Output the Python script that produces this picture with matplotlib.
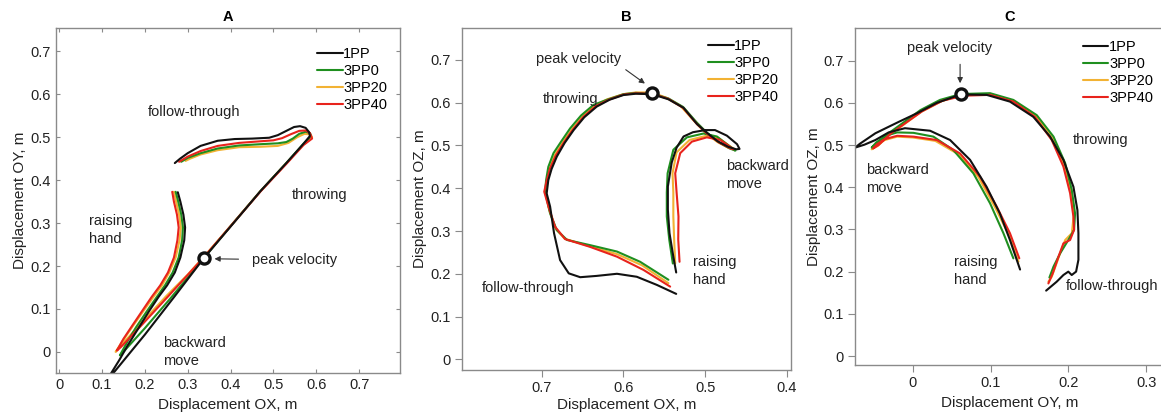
import numpy as np
import matplotlib
matplotlib.use("Agg")
import matplotlib.pyplot as plt

plt.rcParams['font.family'] = ['Liberation Sans', 'DejaVu Sans']

series_names = ["1PP", "3PP0", "3PP20", "3PP40"]
series_colors = {"1PP": "#111111", "3PP0": "#1f8f1f", "3PP20": "#f2b233", "3PP40": "#e8231c"}

# ---------------- Panel A: OX vs OY ----------------
A_1PP = [(0.277, 0.372), (0.283, 0.35), (0.29, 0.32), (0.294, 0.29), (0.292, 0.26), (0.283, 0.22),
         (0.27, 0.185), (0.252, 0.155), (0.232, 0.128), (0.21, 0.095), (0.185, 0.055), (0.16, 0.015),
         (0.14, -0.02), (0.112, -0.065), (0.118, -0.06), (0.2, 0.04), (0.27, 0.13), (0.338, 0.219),
         (0.4, 0.292), (0.47, 0.375), (0.53, 0.44), (0.57, 0.485), (0.585, 0.503), (0.583, 0.512),
         (0.575, 0.522), (0.562, 0.526), (0.548, 0.524), (0.53, 0.515), (0.51, 0.505), (0.49, 0.499),
         (0.45, 0.497), (0.41, 0.496), (0.37, 0.492), (0.33, 0.48), (0.3, 0.463), (0.282, 0.45), (0.27, 0.44)]
A_3PP0 = [(0.272, 0.373), (0.278, 0.35), (0.285, 0.32), (0.289, 0.29), (0.287, 0.26), (0.279, 0.22),
          (0.265, 0.185), (0.247, 0.155), (0.228, 0.128), (0.205, 0.095), (0.18, 0.058), (0.16, 0.025),
          (0.142, -0.008), (0.15, 0.0), (0.2, 0.055), (0.26, 0.125), (0.338, 0.219), (0.4, 0.293),
          (0.47, 0.375), (0.53, 0.44), (0.57, 0.485), (0.588, 0.503), (0.585, 0.51), (0.575, 0.513),
          (0.56, 0.508), (0.545, 0.497), (0.53, 0.489), (0.51, 0.486), (0.47, 0.484), (0.42, 0.481),
          (0.37, 0.474), (0.33, 0.463), (0.3, 0.452), (0.285, 0.443)]
A_3PP20 = [(0.268, 0.373), (0.273, 0.35), (0.28, 0.32), (0.284, 0.29), (0.281, 0.26), (0.272, 0.22),
           (0.257, 0.185), (0.24, 0.155), (0.22, 0.128), (0.198, 0.097), (0.172, 0.06), (0.15, 0.028),
           (0.132, 0.0), (0.14, 0.01), (0.19, 0.065), (0.25, 0.13), (0.3, 0.18), (0.338, 0.222),
           (0.4, 0.293), (0.47, 0.375), (0.53, 0.44), (0.57, 0.483), (0.59, 0.5), (0.585, 0.507),
           (0.572, 0.508), (0.555, 0.5), (0.535, 0.487), (0.51, 0.48), (0.47, 0.478), (0.42, 0.477),
           (0.37, 0.47), (0.33, 0.46), (0.305, 0.45), (0.295, 0.445)]
A_3PP40 = [(0.264, 0.373), (0.268, 0.35), (0.275, 0.32), (0.279, 0.29), (0.276, 0.26), (0.268, 0.22),
           (0.254, 0.185), (0.236, 0.155), (0.216, 0.128), (0.195, 0.097), (0.17, 0.06), (0.15, 0.03),
           (0.135, 0.003), (0.145, 0.012), (0.195, 0.065), (0.255, 0.13), (0.338, 0.221), (0.4, 0.293),
           (0.47, 0.374), (0.53, 0.438), (0.57, 0.482), (0.59, 0.497), (0.585, 0.51), (0.575, 0.516),
           (0.56, 0.515), (0.54, 0.507), (0.52, 0.498), (0.5, 0.493), (0.46, 0.49), (0.42, 0.487),
           (0.37, 0.48), (0.33, 0.468), (0.3, 0.455), (0.28, 0.443)]
A_peak = (0.338, 0.219)

# ---------------- Panel B: OX vs OZ ----------------
B_1PP = [(0.5355, 0.203), (0.539, 0.24), (0.5437, 0.295), (0.5457, 0.35), (0.5457, 0.404), (0.541, 0.46),
         (0.535, 0.495), (0.5265, 0.521), (0.515, 0.531), (0.5, 0.536), (0.488, 0.536), (0.4735, 0.523),
         (0.461, 0.503), (0.458, 0.492), (0.462, 0.491), (0.472, 0.497), (0.485, 0.51), (0.498, 0.53),
         (0.51, 0.55), (0.5265, 0.588), (0.545, 0.608), (0.565, 0.62), (0.585, 0.621), (0.6, 0.618),
         (0.617, 0.607), (0.6327, 0.591), (0.648, 0.566), (0.661, 0.536), (0.672, 0.506), (0.6816, 0.474),
         (0.688, 0.445), (0.692, 0.419), (0.694, 0.388), (0.6898, 0.357), (0.685, 0.295), (0.6776, 0.232),
         (0.667, 0.201), (0.653, 0.192), (0.633, 0.195), (0.608, 0.2), (0.5837, 0.193), (0.5592, 0.174),
         (0.5355, 0.153)]
B_3PP0 = [(0.5396, 0.224), (0.544, 0.28), (0.547, 0.334), (0.547, 0.39), (0.546, 0.435), (0.539, 0.49),
          (0.5224, 0.519), (0.502, 0.528), (0.4857, 0.521), (0.4694, 0.497), (0.463, 0.488), (0.47, 0.493),
          (0.482, 0.506), (0.498, 0.53), (0.51, 0.553), (0.527, 0.59), (0.545, 0.61), (0.565, 0.621),
          (0.585, 0.623), (0.6, 0.62), (0.62, 0.607), (0.6367, 0.595), (0.652, 0.57), (0.6653, 0.54),
          (0.676, 0.51), (0.6857, 0.482), (0.692, 0.45), (0.6947, 0.419), (0.696, 0.392), (0.6898, 0.341),
          (0.6816, 0.302), (0.669, 0.279), (0.641, 0.267), (0.608, 0.252), (0.5796, 0.228), (0.545, 0.186)]
B_3PP20 = [(0.5367, 0.224), (0.538, 0.28), (0.539, 0.334), (0.539, 0.39), (0.54, 0.435), (0.535, 0.484),
           (0.519, 0.513), (0.5, 0.522), (0.484, 0.518), (0.468, 0.496), (0.463, 0.49), (0.472, 0.495),
           (0.485, 0.508), (0.5, 0.53), (0.513, 0.556), (0.53, 0.592), (0.548, 0.612), (0.565, 0.624),
           (0.585, 0.624), (0.6, 0.62), (0.62, 0.608), (0.636, 0.593), (0.65, 0.568), (0.663, 0.538),
           (0.674, 0.508), (0.684, 0.478), (0.69, 0.448), (0.693, 0.418), (0.695, 0.392), (0.691, 0.35),
           (0.683, 0.305), (0.672, 0.282), (0.641, 0.264), (0.608, 0.246), (0.5775, 0.22), (0.545, 0.178)]
B_3PP40 = [(0.5314, 0.228), (0.533, 0.28), (0.5327, 0.334), (0.535, 0.39), (0.5367, 0.435), (0.5306, 0.482),
           (0.5163, 0.509), (0.498, 0.519), (0.4816, 0.513), (0.4653, 0.491), (0.47, 0.494), (0.483, 0.507),
           (0.498, 0.528), (0.51, 0.55), (0.527, 0.588), (0.545, 0.609), (0.565, 0.621), (0.585, 0.622),
           (0.6, 0.619), (0.618, 0.607), (0.634, 0.592), (0.649, 0.567), (0.662, 0.537), (0.673, 0.507),
           (0.683, 0.476), (0.69, 0.446), (0.694, 0.418), (0.697, 0.392), (0.6918, 0.357), (0.6837, 0.31),
           (0.6714, 0.281), (0.641, 0.263), (0.608, 0.24), (0.5755, 0.209), (0.5429, 0.17)]
B_peak = (0.565, 0.622)

# ---------------- Panel C: OY vs OZ ----------------
C_1PP = [(0.138, 0.205), (0.125, 0.275), (0.112, 0.338), (0.095, 0.401), (0.0737, 0.465), (0.048, 0.512),
         (0.0223, 0.534), (-0.01, 0.54), (-0.031, 0.53), (-0.048, 0.512), (-0.062, 0.501), (-0.074, 0.494),
         (-0.068, 0.503), (-0.048, 0.528), (-0.018, 0.555), (0.005, 0.575), (0.0309, 0.6), (0.0617, 0.62),
         (0.095, 0.619), (0.125, 0.603), (0.155, 0.567), (0.1766, 0.52), (0.1937, 0.465), (0.2066, 0.401),
         (0.2117, 0.346), (0.213, 0.291), (0.213, 0.228), (0.21, 0.2), (0.2044, 0.192), (0.2, 0.2),
         (0.1937, 0.192), (0.185, 0.176), (0.1715, 0.155)]
C_3PP0 = [(0.1294, 0.2315), (0.1166, 0.291), (0.0994, 0.362), (0.078, 0.433), (0.0523, 0.488), (0.0266, 0.52),
          (0.0009, 0.529), (-0.02, 0.53), (-0.035, 0.522), (-0.047, 0.506), (-0.0527, 0.494), (-0.046, 0.503),
          (-0.031, 0.528), (-0.01, 0.556), (0.01, 0.583), (0.035, 0.607), (0.0617, 0.621), (0.0994, 0.623),
          (0.1294, 0.607), (0.1594, 0.571), (0.181, 0.52), (0.196, 0.457), (0.2045, 0.393), (0.2087, 0.338),
          (0.2074, 0.299), (0.2, 0.275), (0.1894, 0.243), (0.181, 0.212), (0.1757, 0.186)]
C_3PP20 = [(0.136, 0.2236), (0.1235, 0.287), (0.106, 0.352), (0.0845, 0.424), (0.059, 0.478), (0.029, 0.51),
           (0.0, 0.518), (-0.02, 0.52), (-0.036, 0.512), (-0.047, 0.499), (-0.0527, 0.49), (-0.045, 0.498),
           (-0.03, 0.524), (-0.009, 0.552), (0.011, 0.579), (0.037, 0.604), (0.063, 0.619), (0.0994, 0.621),
           (0.1294, 0.605), (0.158, 0.569), (0.18, 0.515), (0.195, 0.452), (0.2035, 0.39), (0.207, 0.334),
           (0.2045, 0.291), (0.196, 0.275), (0.1894, 0.243), (0.1787, 0.188), (0.1744, 0.176)]
C_3PP40 = [(0.137, 0.2315), (0.125, 0.291), (0.108, 0.354), (0.0866, 0.425), (0.0609, 0.48), (0.0309, 0.512),
           (0.0009, 0.52), (-0.02, 0.522), (-0.036, 0.514), (-0.046, 0.502), (-0.051, 0.492), (-0.044, 0.5),
           (-0.029, 0.526), (-0.008, 0.554), (0.012, 0.58), (0.038, 0.605), (0.065, 0.617), (0.0994, 0.619),
           (0.1294, 0.603), (0.157, 0.567), (0.1787, 0.512), (0.1937, 0.449), (0.2023, 0.386), (0.2066, 0.33),
           (0.2074, 0.299), (0.2023, 0.275), (0.1937, 0.267), (0.1873, 0.235), (0.18, 0.196), (0.1744, 0.172)]
C_peak = (0.062, 0.62)

x_ticks_A = [0, 0.1, 0.2, 0.3, 0.4, 0.5, 0.6, 0.7]
x_ticks_B = [0.7, 0.6, 0.5, 0.4]
x_ticks_C = [0, 0.1, 0.2, 0.3]
y_ticks = [0, 0.1, 0.2, 0.3, 0.4, 0.5, 0.6, 0.7]


def fmt(v):
    return "0" if v == 0 else f"{v:g}"


W, H = 1161, 420
fig = plt.figure(figsize=(W / 100, H / 100), dpi=100)


def px_axes(l, r, t, b):
    return fig.add_axes([l / W, (H - b) / H, (r - l) / W, (b - t) / H])


axA = px_axes(56, 400, 28.3, 372.5)
axB = px_axes(461.7, 791, 28.3, 370)
axC = px_axes(855, 1165, 28.3, 365)

spine_col = "#8a8a8a"
draw_order = ["3PP20", "3PP0", "3PP40", "1PP"]

panels = [
    (axA, {"1PP": A_1PP, "3PP0": A_3PP0, "3PP20": A_3PP20, "3PP40": A_3PP40}, A_peak, "A",
     "Displacement OX, m", "Displacement OY, m", (-0.007, 0.795), (-0.048, 0.754), x_ticks_A, 'in'),
    (axB, {"1PP": B_1PP, "3PP0": B_3PP0, "3PP20": B_3PP20, "3PP40": B_3PP40}, B_peak, "B",
     "Displacement OX, m", "Displacement OZ, m", (0.798, 0.395), (-0.025, 0.774), x_ticks_B, 'out'),
    (axC, {"1PP": C_1PP, "3PP0": C_3PP0, "3PP20": C_3PP20, "3PP40": C_3PP40}, C_peak, "C",
     "Displacement OY, m", "Displacement OZ, m", (-0.0742, 0.3243), (-0.0213, 0.7768), x_ticks_C, 'out'),
]

legend_pos = {"A": (0.759, 0.945), "B": (0.748, 0.968), "C": (0.735, 0.965)}
xlabel_pad = {"A": 4, "B": 2, "C": 4}

for ax, data, peak, title, xl, yl, xlim, ylim, xt, tdir in panels:
    lines = {}
    for name in draw_order:
        arr = np.array(data[name])
        ln, = ax.plot(arr[:, 0], arr[:, 1], color=series_colors[name], lw=1.5,
                      solid_capstyle='round', solid_joinstyle='round')
        lines[name] = ln
    ax.plot([peak[0]], [peak[1]], 'o', ms=8, mfc='white', mec='#111111', mew=2.4, zorder=5)
    ax.set_xlim(*xlim)
    ax.set_ylim(*ylim)
    ax.set_xticks(xt)
    ax.set_xticklabels([fmt(v) for v in xt])
    ax.set_yticks(y_ticks)
    ax.set_yticklabels([fmt(v) for v in y_ticks])
    for s in ax.spines.values():
        s.set_color(spine_col)
        s.set_linewidth(1.0)
    if tdir == 'in':
        ax.tick_params(direction='in', length=3, width=0.8, color=spine_col, top=True, right=True,
                       labelsize=10.5, labelcolor='#222222', pad=4)
    else:
        ax.tick_params(direction='out', length=5, width=0.8, color=spine_col,
                       labelsize=10.5, labelcolor='#222222', pad=3)
    ax.set_xlabel(xl, fontsize=11, color='#222222', labelpad=xlabel_pad[title])
    ax.set_ylabel(yl, fontsize=11, color='#222222', labelpad=2)
    ax.set_title(title, fontsize=10.5, fontweight='bold', pad=5)
    lx, ly = legend_pos[title]
    ax.legend([lines[n] for n in series_names], series_names, loc='upper left',
              bbox_to_anchor=(lx, ly), frameon=False, fontsize=10.5, handlelength=1.75,
              handletextpad=0.05, labelspacing=0.2, borderpad=0, borderaxespad=0)

tk = dict(fontsize=10.5, color='#222222')
arrow = dict(arrowstyle='-|>', color='#333333', lw=0.8, mutation_scale=8)

# Panel A annotations
axA.text(0.315, 0.558, "follow-through", ha='center', va='center', **tk)
axA.text(0.607, 0.365, "throwing", ha='center', va='center', **tk)
axA.text(0.07, 0.285, "raising\nhand", ha='left', va='center', linespacing=1.35, **tk)
axA.text(0.451, 0.215, "peak velocity", ha='left', va='center', **tk)
axA.annotate("", xy=(0.356, 0.217), xytext=(0.425, 0.216), arrowprops=arrow)
axA.text(0.243, 0.0, "backward\nmove", ha='left', va='center', linespacing=1.35, **tk)

# Panel B annotations
axB.text(0.655, 0.702, "peak velocity", ha='center', va='center', **tk)
axB.annotate("", xy=(0.571, 0.641), xytext=(0.6, 0.681), arrowprops=arrow)
axB.text(0.665, 0.608, "throwing", ha='center', va='center', **tk)
axB.text(0.4743, 0.43, "backward\nmove", ha='left', va='center', linespacing=1.35, **tk)
axB.text(0.5151, 0.2066, "raising\nhand", ha='left', va='center', linespacing=1.35, **tk)
axB.text(0.7163, 0.166, "follow-through", ha='center', va='center', **tk)

# Panel C annotations
axC.text(0.048, 0.729, "peak velocity", ha='center', va='center', **tk)
axC.annotate("", xy=(0.0609, 0.64), xytext=(0.0609, 0.698), arrowprops=arrow)
axC.text(0.2409, 0.512, "throwing", ha='center', va='center', **tk)
axC.text(-0.0604, 0.4195, "backward\nmove", ha='left', va='center', linespacing=1.35, **tk)
axC.text(0.0531, 0.2023, "raising\nhand", ha='left', va='center', linespacing=1.35, **tk)
axC.text(0.1967, 0.166, "follow-through", ha='left', va='center', **tk)

fig.savefig("out.png", dpi=100)
